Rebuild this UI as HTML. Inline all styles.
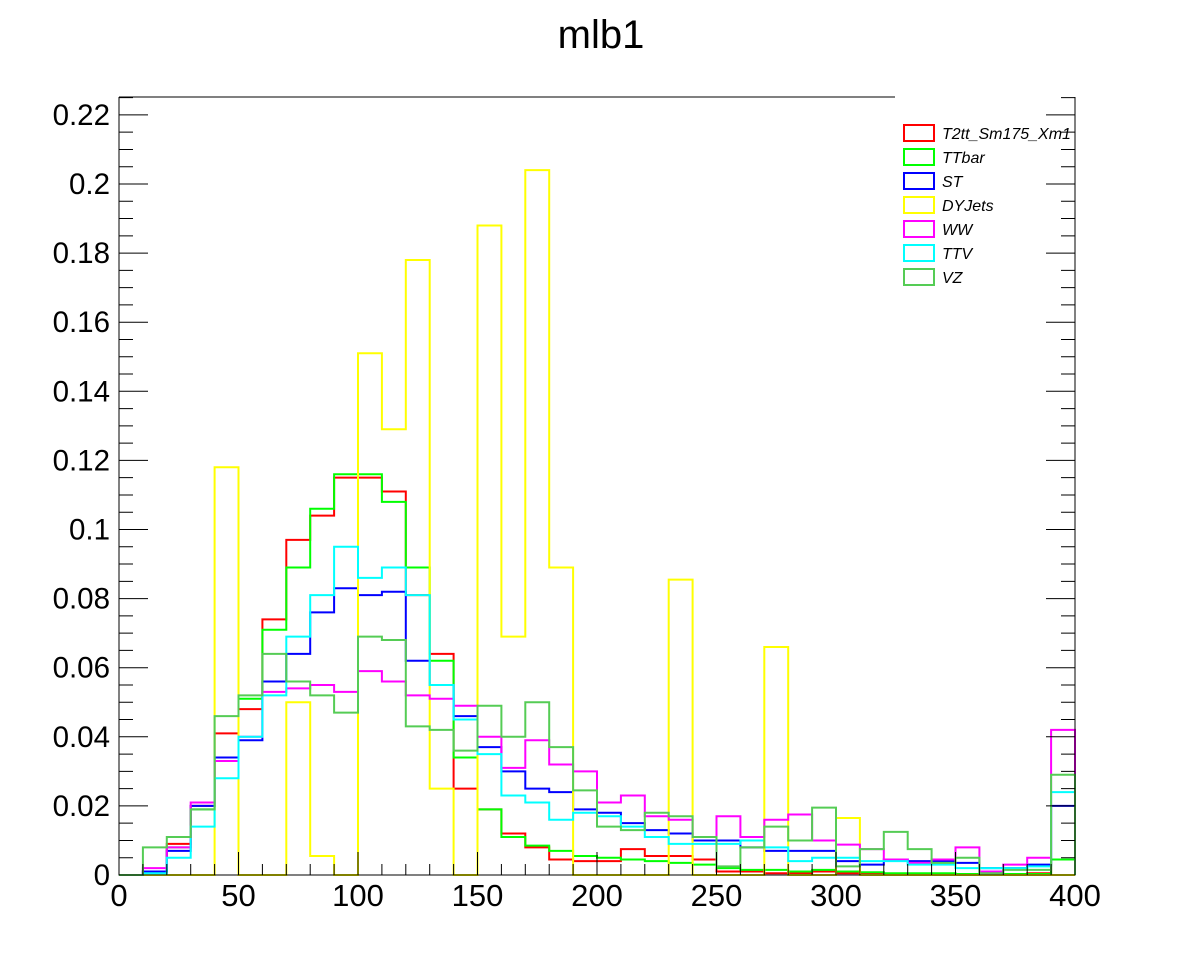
<!DOCTYPE html>
<html><head><meta charset="utf-8"><style>
body{margin:0;background:#fff}
svg{display:block;font-family:"Liberation Sans",sans-serif}
</style></head><body>
<svg id="c" width="1196" height="972">
<rect width="1196" height="972" fill="#fff"/>
<text x="601" y="48" text-anchor="middle" font-size="40">mlb1</text>
</svg>
<script>
const binEdges=[0,10,20,30,40,50,60,70,80,90,100,110,120,130,140,150,160,170,180,190,200,210,220,230,240,250,260,270,280,290,300,310,320,330,340,350,360,370,380,390,400];
const xTickLabels=["0","50","100","150","200","250","300","350","400"];
const yTickLabels=["0","0.02","0.04","0.06","0.08","0.1","0.12","0.14","0.16","0.18","0.2","0.22"];
const seriesNames=["T2tt_Sm175_Xm1","TTbar","ST","DYJets","WW","TTV","VZ"];
const seriesColors=["#ff0000","#00ff00","#0000ff","#ffff00","#ff00ff","#00ffff","#55cc55"];
const t2tt=[0,0.001,0.009,0.020,0.041,0.048,0.074,0.097,0.104,0.115,0.115,0.111,0.081,0.064,0.025,0.019,0.012,0.008,0.0045,0.004,0.004,0.0075,0.0055,0.0055,0.0045,0.001,0.001,0.0005,0.0005,0.001,0.0005,0.0005,0.0003,0.0003,0.0003,0.0002,0.0002,0.0002,0.0005,0.0045];
const ttbar=[0,0.001,0.008,0.019,0.034,0.051,0.071,0.089,0.106,0.116,0.116,0.108,0.089,0.062,0.034,0.019,0.011,0.0085,0.007,0.0055,0.005,0.0045,0.004,0.0035,0.003,0.002,0.0015,0.0015,0.001,0.0015,0.001,0.0008,0.0005,0.0005,0.0005,0.0003,0.0003,0.0003,0.0003,0.0045];
const st=[0,0.001,0.007,0.020,0.034,0.039,0.056,0.064,0.076,0.083,0.081,0.082,0.062,0.055,0.046,0.037,0.030,0.025,0.024,0.019,0.018,0.015,0.013,0.012,0.010,0.010,0.008,0.007,0.007,0.007,0.004,0.003,0.0045,0.004,0.004,0.0035,0.002,0.002,0.003,0.020];
const dyjets=[0,0,0,0,0.118,0,0,0.050,0.0055,0,0.151,0.129,0.178,0.025,0,0.188,0.069,0.204,0.089,0,0,0,0,0.0855,0,0,0,0.066,0,0,0.0165,0,0,0,0,0,0,0,0,0];
const ww=[0,0.002,0.008,0.021,0.033,0.040,0.053,0.054,0.055,0.053,0.059,0.056,0.052,0.051,0.049,0.040,0.031,0.039,0.032,0.030,0.021,0.023,0.017,0.016,0.011,0.017,0.011,0.016,0.0175,0.010,0.0088,0.0075,0.0045,0.0035,0.0045,0.008,0.001,0.003,0.005,0.042];
const ttv=[0,0.0005,0.005,0.014,0.028,0.040,0.052,0.069,0.081,0.095,0.086,0.089,0.081,0.055,0.045,0.035,0.023,0.021,0.016,0.018,0.017,0.014,0.011,0.009,0.009,0.009,0.010,0.008,0.004,0.005,0.005,0.004,0.004,0.003,0.003,0.002,0.002,0.002,0.0025,0.024];
const vz=[0,0.008,0.011,0.019,0.046,0.052,0.064,0.056,0.052,0.047,0.069,0.068,0.043,0.042,0.036,0.049,0.040,0.050,0.037,0.0245,0.014,0.013,0.018,0.017,0.011,0.0025,0.008,0.014,0.010,0.0195,0.0025,0.0075,0.0125,0.0075,0.0035,0.005,0.0005,0.0015,0.0015,0.029];
const allSeries=[t2tt,ttbar,st,dyjets,ww,ttv,vz];
const X0=119,X1=1075,Y0=875,YT=97,XMAX=400,YMAX=(875-97)/3455;
const xs=v=>X0+(X1-X0)*v/XMAX;
const ys=v=>Y0-(Y0-YT)*v/YMAX;
const NS="http://www.w3.org/2000/svg";
const svg=document.getElementById('c');
function mk(tag,attrs){const e=document.createElementNS(NS,tag);for(const k in attrs)e.setAttribute(k,attrs[k]);svg.appendChild(e);return e;}
allSeries.forEach((vals,si)=>{
  let d="M"+xs(binEdges[0])+","+ys(0);
  vals.forEach((v,i)=>{d+=" L"+xs(binEdges[i])+","+ys(v)+" L"+xs(binEdges[i+1])+","+ys(v);});
  d+=" L"+xs(binEdges[vals.length])+","+ys(0);
  const p=mk('path',{d:d,fill:'none',stroke:seriesColors[si],'stroke-width':2});
  
  
});
const fr=mk('path',{d:`M${X0},${YT} L${X0},${Y0} L${X1},${Y0} L${X1},${YT} M${X0},${YT} L895,${YT}`,fill:'none',stroke:'#000','stroke-width':1});


for(let k=0;k*0.005<=YMAX;k++){
  const v=k*0.005,y=ys(v),len=(k%4==0)?29:14;
  const t=mk('path',{d:`M${X0},${y} L${X0+len},${y} M${X1},${y} L${X1-len},${y}`,stroke:'#000','stroke-width':1});
  
  
}
yTickLabels.forEach((lab,i)=>{
  const t=mk('text',{x:110,y:ys(i*0.02)+10,'text-anchor':'end','font-size':29.5});
  t.textContent=lab;
  
  
});
for(let v=0;v<=XMAX;v+=10){
  const x=xs(v),len=(v%50==0)?23:11;
  const t=mk('path',{d:`M${x},${Y0} L${x},${Y0-len}`,stroke:'#000','stroke-width':1});
  
  
}
xTickLabels.forEach((lab,i)=>{
  const t=mk('text',{x:xs(i*50),y:906,'text-anchor':'middle','font-size':31});
  t.textContent=lab;
  
  
});
seriesNames.forEach((n,i)=>{
  const y=133+i*24;
  const r=mk('rect',{x:904,y:y-8,width:30,height:16,fill:'none',stroke:seriesColors[i],'stroke-width':2});
  
  
  const t=mk('text',{x:942,y:y+6,'font-size':16,'font-style':'italic'});
  t.textContent=n;
  
  
});
</script>
</body></html>
